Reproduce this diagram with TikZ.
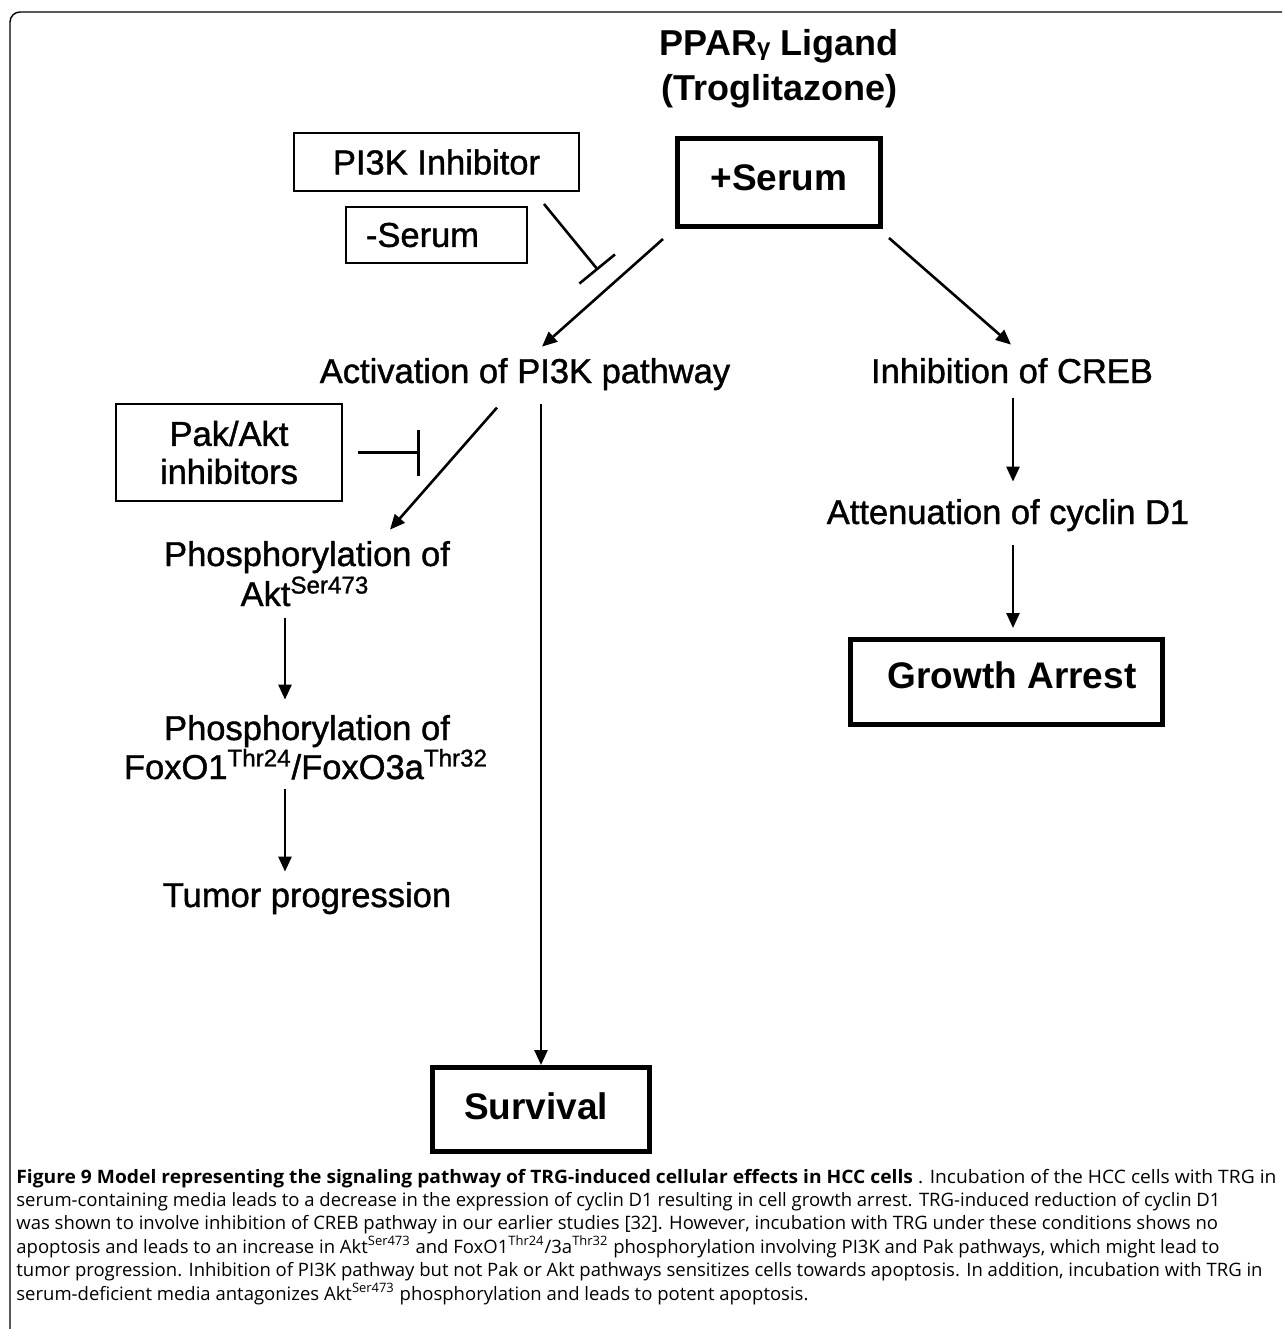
\documentclass[tikz,border=0pt]{standalone}
\usepackage{fontspec}
\setmainfont{Liberation Sans}
\newfontfamily\diagfont[FakeBold=1.2]{Liberation Sans}
\newfontfamily\capfont{Open Sans}
\usetikzlibrary{arrows.meta}
\begin{document}
\begin{tikzpicture}[x=0.5pt,y=-0.5pt,
  txt/.style={inner sep=0pt, font=\diagfont\fontsize{17.25}{21}\selectfont},
  ttl/.style={inner sep=0pt, anchor=base, font=\fontsize{18}{22}\selectfont\bfseries},
  thinbox/.style={draw, line width=1pt, inner sep=0pt, align=center, font=\diagfont\fontsize{17.25}{19}\selectfont},
  thickbox/.style={draw, line width=2.5pt, inner sep=0pt, font=\fontsize{18.5}{22}\selectfont\bfseries},
  arr/.style={line width=1.3pt, -{Triangle[length=7.5pt,width=6.5pt]}},
  inh/.style={line width=1.3pt, -{Bar[width=23pt,line width=1.3pt]}},
  captext/.style={anchor=base west, inner sep=0pt, font=\capfont\fontsize{9.25}{11.6}\selectfont}
]
\useasboundingbox (0,0) rectangle (1282,1329);
% frame
\draw[line width=0.7pt, rounded corners=5pt] (10,1329) -- (10,12) -- (1282,12);

% title
\node[ttl] (t1) at (779,55) {PPAR{\fontsize{12}{14}\selectfont γ} Ligand};
\node[ttl] (t2) at (779,100) {(Troglitazone)};

% boxes
\node[thickbox, minimum width=101.5pt, minimum height=44pt] (serum) at (779,182.5) {\raisebox{4.5pt}{+Serum}};
\node[thinbox, minimum width=142.5pt, minimum height=29pt] (pi3k) at (436.5,162) {PI3K Inhibitor};
\node[thinbox, minimum width=90.5pt, minimum height=28pt] (noserum) at (436.5,235) {-Serum\hspace*{14pt}};
\node[thinbox, minimum width=113pt, minimum height=48.5pt] (pak) at (229,452.5) {Pak/Akt\\inhibitors};
\node[thickbox, minimum width=108.5pt, minimum height=42pt] (surv) at (541,1109.5) {\raisebox{3.5pt}{Survival}\hspace*{5pt}};
\node[thickbox, minimum width=156pt, minimum height=42.5pt] (growth) at (1006.5,682) {\hspace*{5.5pt}\raisebox{7pt}{Growth Arrest}};

% text nodes
\node[txt, anchor=base] (act) at (525,383) {Activation of PI3K pathway};
\node[txt, anchor=base] (creb) at (1012,383) {Inhibition of CREB};
\node[txt, anchor=base] (atten) at (1008,524) {Attenuation of cyclin D1};
\node[txt, anchor=base] (phosA) at (307,566) {Phosphorylation of};
\node[txt, anchor=base] (aktA) at (305,606) {Akt\textsuperscript{Ser473}};
\node[txt, anchor=base] (phosB) at (307,740) {Phosphorylation of};
\node[txt, anchor=base] (foxo) at (306,779) {FoxO1\textsuperscript{Thr24}/FoxO3a\textsuperscript{Thr32}};
\node[txt, anchor=base] (tumor) at (307,907) {Tumor progression};

% connectors
\draw[arr] ([shift={(-12,10)}]serum.south west) -- ([shift={(17,-11)}]act.north);
\draw[arr] ([shift={(6,9)}]serum.south east) -- ([shift={(-1,-13)}]creb.north);
\draw[arr] ([shift={(-28,17)}]act.south) -- ([shift={(83,-11)}]phosA.north);
\draw[arr] ([shift={(16,13)}]act.south) -- (surv.north);
\draw[arr] ([shift={(-20,11)}]aktA.south) -- ([shift={(-22,-15)}]phosB.north);
\draw[arr] ([shift={(-21,9)}]foxo.south) -- ([shift={(-22,-10)}]tumor.north);
\draw[arr] ([shift={(1,14)}]creb.south) -- ([shift={(5,-17)}]atten.north);
\draw[arr] ([shift={(5,13)}]atten.south) -- ([shift={(6.5,-9)}]growth.north);

% inhibitions
\coordinate (bar1) at (598,270);
\draw[inh] ([shift={(-36,12)}]pi3k.south east) -- (bar1);
\coordinate (bar2) at (420,452.5);
\draw[inh] ([xshift=7.5pt]pak.east) -- (bar2);

% caption
\node[captext] (c1) at (16,1183) {\resizebox{630pt}{\height}{\textbf{Figure 9 Model representing the signaling pathway of TRG-induced cellular effects in HCC cells} . Incubation of the HCC cells with TRG in}};
\node[captext] (c2) at (16,1206.4) {serum-containing media leads to a decrease in the expression of cyclin D1 resulting in cell growth arrest. TRG-induced reduction of cyclin D1};
\node[captext] (c3) at (16,1229.8) {was shown to involve inhibition of CREB pathway in our earlier studies [32]. However, incubation with TRG under these conditions shows no};
\node[captext] (c4) at (16,1253.2) {apoptosis and leads to an increase in Akt\textsuperscript{Ser473} and FoxO1\textsuperscript{Thr24}/3a\textsuperscript{Thr32} phosphorylation involving PI3K and Pak pathways, which might lead to};
\node[captext] (c5) at (16,1276.6) {tumor progression. Inhibition of PI3K pathway but not Pak or Akt pathways sensitizes cells towards apoptosis. In addition, incubation with TRG in};
\node[captext] (c6) at (16,1300) {serum-deficient media antagonizes Akt\textsuperscript{Ser473} phosphorylation and leads to potent apoptosis.};
\end{tikzpicture}
\end{document}
